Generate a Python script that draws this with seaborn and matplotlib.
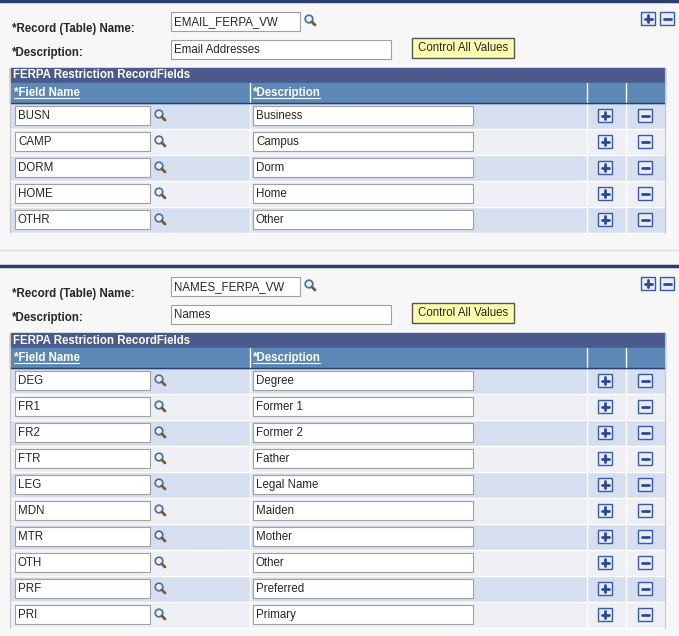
import matplotlib
matplotlib.use("Agg")
import matplotlib.pyplot as plt
import matplotlib.patches as mpatches
import seaborn as sns

sns.set_style("white")

# =====================================
# data
# =====================================
record_names = ["EMAIL_FERPA_VW", "NAMES_FERPA_VW"]
record_descs = ["Email Addresses", "Names"]
field_names_1 = ["BUSN", "CAMP", "DORM", "HOME", "OTHR"]
field_descs_1 = ["Business", "Campus", "Dorm", "Home", "Other"]
field_names_2 = ["DEG", "FR1", "FR2", "FTR", "LEG", "MDN", "MTR", "OTH", "PRF", "PRI"]
field_descs_2 = ["Degree", "Former 1", "Former 2", "Father", "Legal Name", "Maiden",
                 "Mother", "Other", "Preferred", "Primary"]

BG = "#f7f7f7"
DARK = "#4a5a8c"
HEAD = "#5b88b6"
ROW_A = "#d6dff0"
ROW_B = "#eef0f5"
FONT = "Liberation Sans"

W, H = 679, 636
fig = plt.figure(figsize=(W / 100, H / 100), dpi=100)
ax = fig.add_axes([0, 0, 1, 1])
ax.set_xlim(0, W)
ax.set_ylim(H, 0)
ax.axis("off")
ax.add_patch(mpatches.Rectangle((0, 0), W, H, color=BG, zorder=0))


def box(x, y, w, h, text):
    ax.add_patch(mpatches.Rectangle((x, y), w, h, facecolor="white", edgecolor="#a0a0a0", lw=0.8, zorder=3))
    ax.text(x + 3, y + h / 2 + 0.5, text, fontsize=8.3, family=FONT, va="center", zorder=4)


def magnifier(x, y):
    ax.add_patch(mpatches.Circle((x, y), 3.8, facecolor="#e8f2fb", edgecolor="#4a6f9a", lw=1.2, zorder=4))
    ax.plot([x + 2.8, x + 6], [y + 2.8, y + 6], color="#7a5a30", lw=2, zorder=4)


def pm_button(x, y, sign):
    ax.add_patch(mpatches.Rectangle((x, y), 14, 13, facecolor="#e8ecf6", edgecolor="#3a5aa8", lw=1, zorder=4))
    ax.plot([x + 3.5, x + 10.5], [y + 6.5, y + 6.5], color="#2a4a98", lw=2, zorder=5)
    if sign == "+":
        ax.plot([x + 7, x + 7], [y + 3, y + 10], color="#2a4a98", lw=2, zorder=5)


def panel(y0, name, desc, fnames, fdescs):
    ax.plot([0, W], [y0 + 1, y0 + 1], color="#2b3f6e", lw=2.5, zorder=2)
    ax.text(12, y0 + 29, "*Record (Table) Name:", fontsize=8.3, family=FONT, weight="bold", va="center")
    ax.text(12, y0 + 53, "*Description:", fontsize=8.3, family=FONT, weight="bold", va="center")
    box(171, y0 + 12, 129, 19, name)
    magnifier(309, y0 + 19)
    box(171, y0 + 40, 220, 19, desc)
    ax.add_patch(mpatches.Rectangle((412, y0 + 38), 102, 20, facecolor="#ffffb0", edgecolor="#555555", lw=1, zorder=3))
    ax.text(463, y0 + 48, "Control All Values", fontsize=8.3, family=FONT, ha="center", va="center", zorder=4)
    pm_button(641, y0 + 12, "+")
    pm_button(660, y0 + 12, "-")

    # table
    ty = y0 + 68
    ax.add_patch(mpatches.Rectangle((10, ty), 655, 15, color=DARK, zorder=2))
    ax.text(13, ty + 7.5, "FERPA Restriction RecordFields", fontsize=8.3, family=FONT, weight="bold",
            color="white", va="center", zorder=3)
    hy = ty + 15
    ax.add_patch(mpatches.Rectangle((10, hy), 655, 20, color=HEAD, zorder=2))
    for xs in [250, 587, 626]:
        ax.plot([xs, xs], [hy, hy + 20 + 26 * len(fnames)], color="white", lw=1, zorder=3)
    ax.plot([10, 665], [hy + 20, hy + 20], color="#2b3f6e", lw=1, zorder=3)
    for hx, ht in [(14, "*Field Name"), (253, "*Description")]:
        t = ax.text(hx, hy + 10, ht, fontsize=8.3, family=FONT, weight="bold", color="white", va="center", zorder=3)
    ax.plot([14, 79], [hy + 15, hy + 15], color="white", lw=0.8, zorder=3)
    ax.plot([253, 320], [hy + 15, hy + 15], color="white", lw=0.8, zorder=3)
    ry = hy + 20
    for i, (fn, fd) in enumerate(zip(fnames, fdescs)):
        y = ry + 26 * i
        ax.add_patch(mpatches.Rectangle((10, y), 655, 26, color=ROW_A if i % 2 == 0 else ROW_B, zorder=1))
        ax.plot([10, 665], [y + 26, y + 26], color="white", lw=1, zorder=2)
        box(15, y + 3, 135, 19, fn)
        magnifier(159, y + 11)
        box(253, y + 3, 220, 19, fd)
        pm_button(598, y + 6, "+")
        pm_button(638, y + 6, "-")
    ax.plot([10, 10], [ty, ry + 26 * len(fnames)], color="#c8c8c8", lw=0.8, zorder=3)
    ax.plot([665, 665], [ty, ry + 26 * len(fnames)], color="#c8c8c8", lw=0.8, zorder=3)


panel(0, record_names[0], record_descs[0], field_names_1, field_descs_1)
ax.plot([0, W], [250, 250], color="#dddddd", lw=1)
panel(265, record_names[1], record_descs[1], field_names_2, field_descs_2)

fig.savefig("out.png", dpi=100)
